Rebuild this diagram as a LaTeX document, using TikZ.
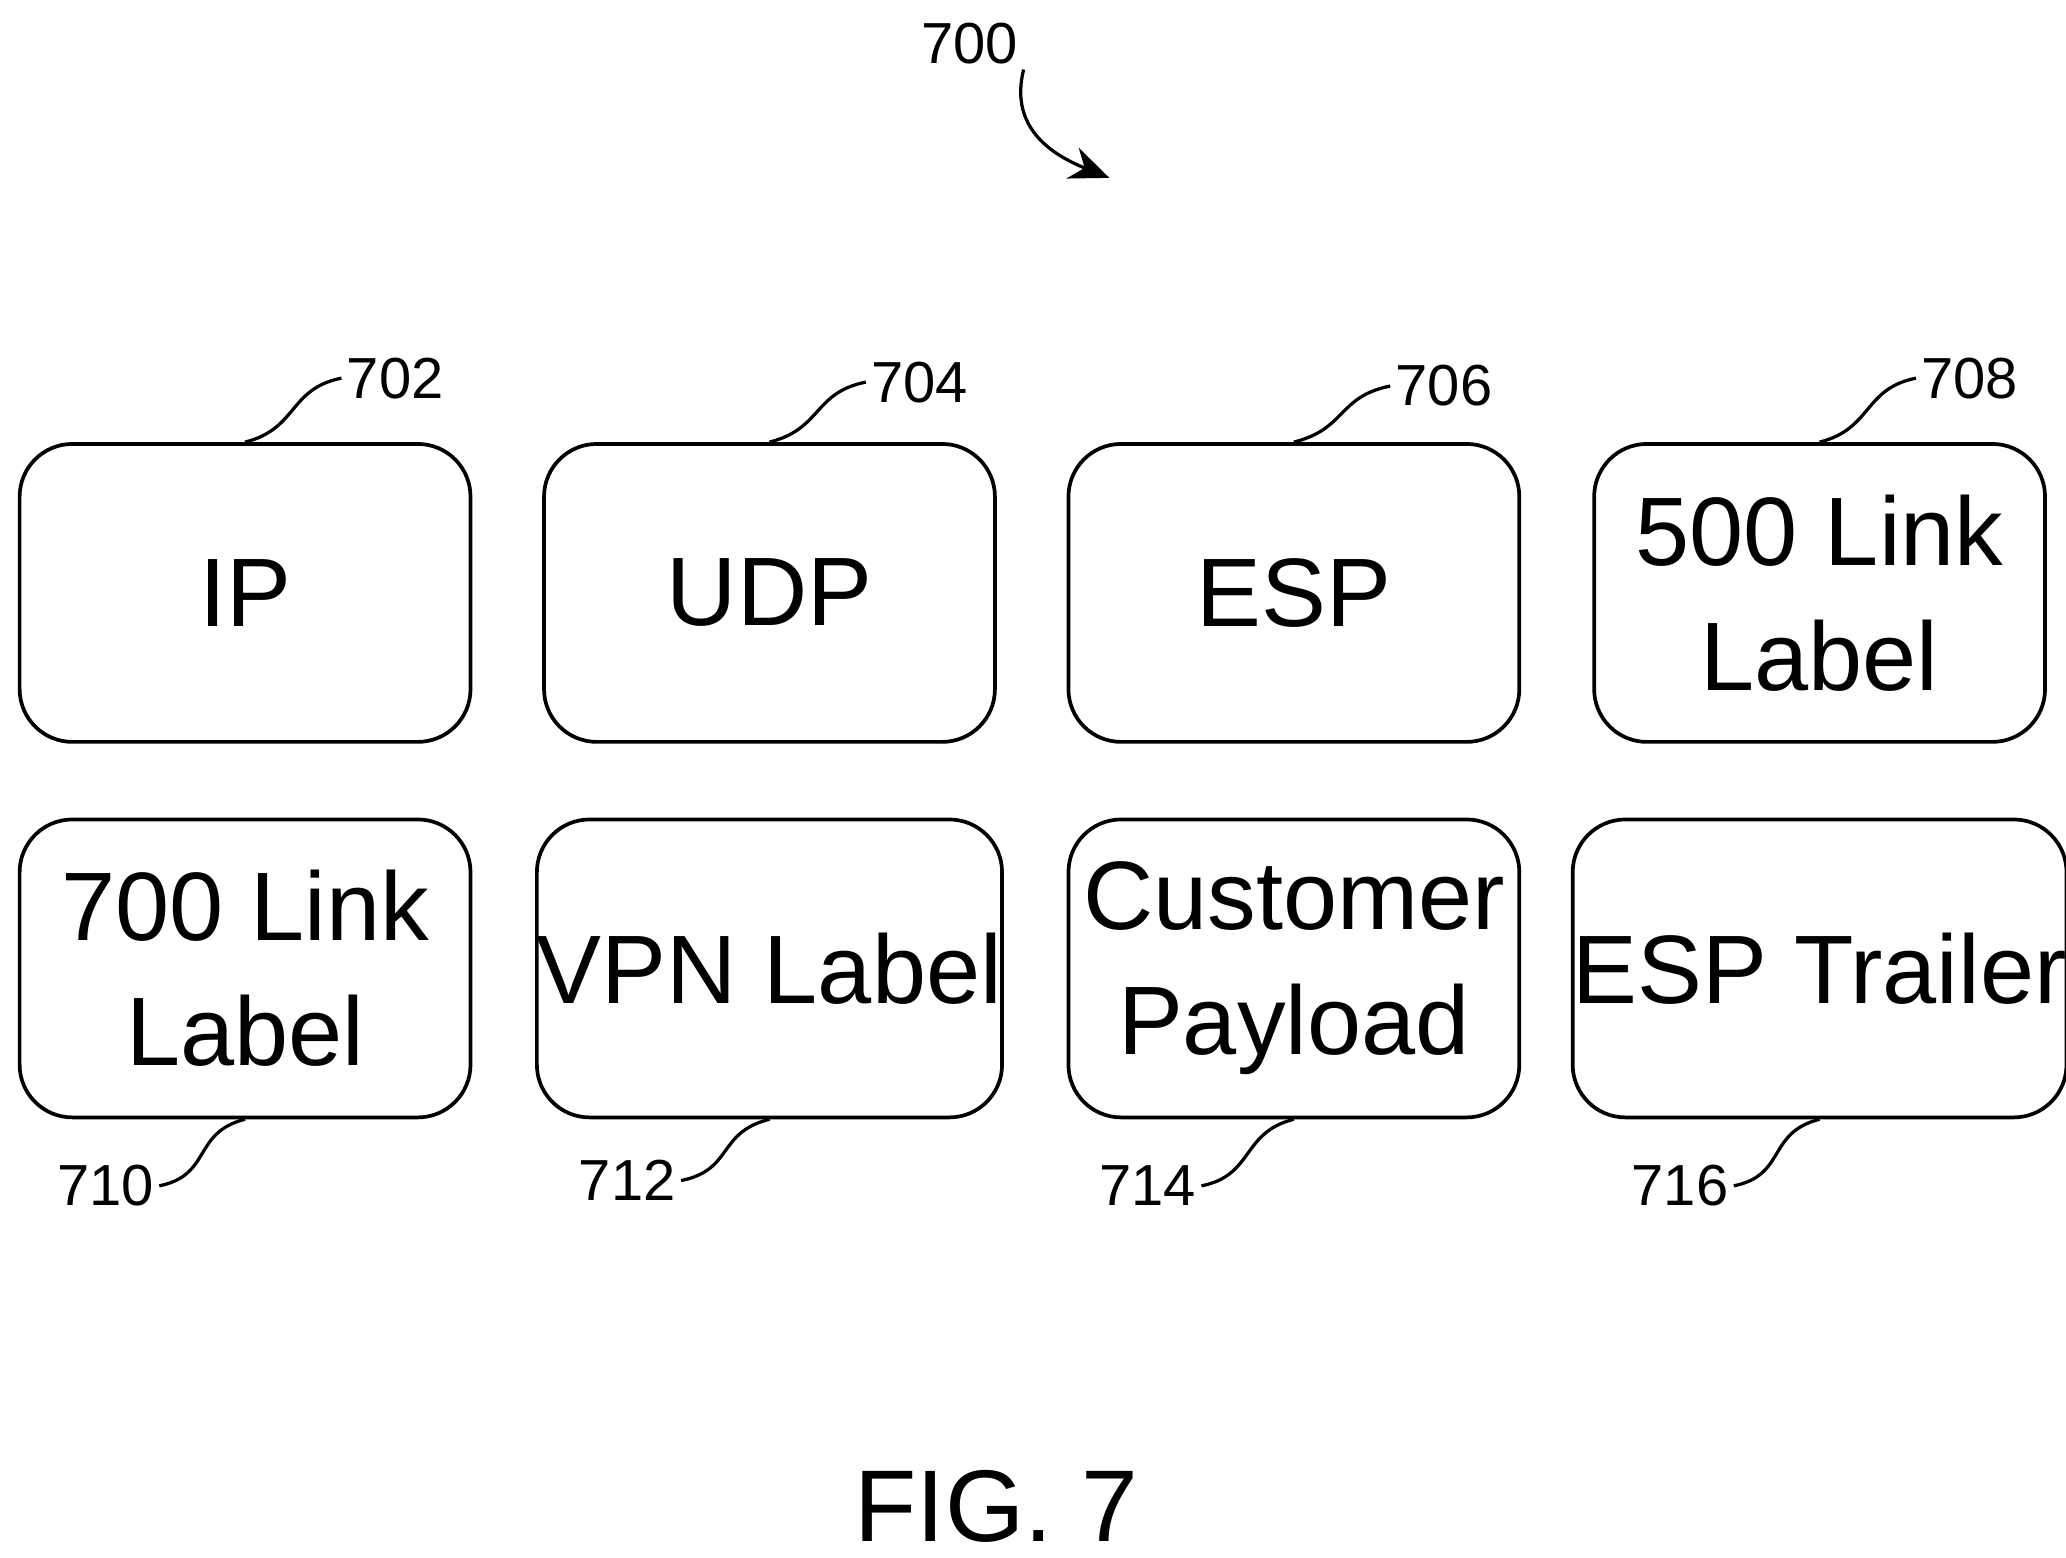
\documentclass[tikz,border=0pt]{standalone}
\usepackage{fontspec}
\setmainfont{Liberation Sans}
\usetikzlibrary{positioning,arrows.meta}

\begin{document}
\begin{tikzpicture}[x=0.01cm, y=-0.01cm,
    blk/.style={draw, line width=0.8pt, rounded corners=0.4cm, minimum width=3.42cm,
        minimum height=2.26cm, align=center, font=\fontsize{21}{27}\selectfont, inner sep=0pt},
    refnum/.style={font=\fontsize{12.5}{14}\selectfont, inner sep=1pt},
    lead/.style={line width=0.7pt}]
    \useasboundingbox (0,0) rectangle (1568,1182);

    % top row
    \node[blk] (ip)   at (186,450)  {IP};
    \node[blk] (udp)  at (584,450)  {UDP};
    \node[blk] (esp)  at (982,450)  {ESP};
    \node[blk] (lk5)  at (1381,450) {500 Link\\Label};
    % bottom row
    \node[blk] (lk7)  at (186,735)  {700 Link\\Label};
    \node[blk] (vpn)  at (584,735)  {VPN Label};
    \node[blk] (pay)  at (982,735)  {Customer\\Payload};
    \node[blk] (trl)  at (1381,735) {ESP Trailer};

    % reference numerals
    \node[refnum] (n702) at (300,287) {702};
    \node[refnum] (n704) at (698,290) {704};
    \node[refnum] (n706) at (1096,293) {706};
    \node[refnum] (n708) at (1495,287) {708};
    \node[refnum] (n710) at (80,900) {710};
    \node[refnum] (n712) at (476,896) {712};
    \node[refnum] (n714) at (871,900) {714};
    \node[refnum] (n716) at (1275,900) {716};

    \draw[lead] (ip.north)  .. controls +(40,-10) and +(-40,8) .. (n702.west);
    \draw[lead] (udp.north) .. controls +(40,-10) and +(-40,8) .. (n704.west);
    \draw[lead] (esp.north) .. controls +(40,-10) and +(-40,8) .. (n706.west);
    \draw[lead] (lk5.north) .. controls +(40,-10) and +(-40,8) .. (n708.west);
    \draw[lead] (lk7.south) .. controls +(-40,10) and +(40,-8) .. (n710.east);
    \draw[lead] (vpn.south) .. controls +(-40,10) and +(40,-8) .. (n712.east);
    \draw[lead] (pay.south) .. controls +(-40,10) and +(40,-8) .. (n714.east);
    \draw[lead] (trl.south) .. controls +(-40,10) and +(40,-8) .. (n716.east);

    % figure numeral
    \node[refnum] (n700) at (736,33) {700};
    \coordinate (tip) at (842,135);
    \draw[lead, -{Stealth[length=0.3cm, width=0.25cm]}] (n700.south east) .. controls +(-10,40) and +(-50,-20) .. (tip);

    \node[font=\fontsize{22}{26}\selectfont] (fig) at (756,1143) {FIG. 7};
\end{tikzpicture}
\end{document}
